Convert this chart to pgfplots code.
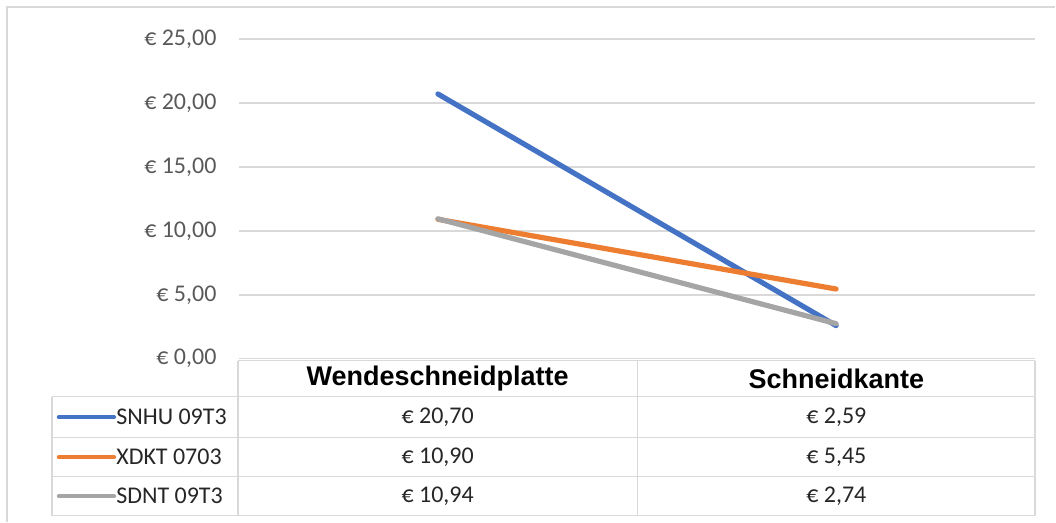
\documentclass[border=0pt]{standalone}
\usepackage{pgfplots}
\pgfplotsset{compat=1.18}
\usepackage{fontspec}
\setmainfont{Carlito}
\newfontfamily\arialfont{Liberation Sans}
\definecolor{sblue}{HTML}{4472C4}
\definecolor{sorange}{HTML}{ED7D31}
\definecolor{sgray}{HTML}{A5A5A5}
\definecolor{gridc}{HTML}{D9D9D9}
\definecolor{tickc}{HTML}{595959}
\definecolor{txtc}{HTML}{262626}
\begin{document}
\begin{tikzpicture}[x=1pt,y=1pt]
\fontsize{12}{14}\selectfont
% canvas
\path (0,0) rectangle (528,261);
% chart border (top and left only visible)
\draw[gridc, line width=0.8pt] (3.5,0) -- (3.5,257.5) -- (528,257.5);
\begin{axis}[
  at={(119.5pt,81.5pt)}, anchor=south west,
  scale only axis, width=398.5pt, height=160pt,
  xmin=-0.5, xmax=1.5, ymin=0, ymax=25,
  axis line style={draw=none},
  xtick=\empty,
  ytick={0,5,10,15,20,25},
  yticklabels={{€ 0,00},{€ 5,00},{€ 10,00},{€ 15,00},{€ 20,00},{€ 25,00}},
  /pgf/number format/assume math mode=true,
  yticklabel style={font=\fontsize{12}{14}\selectfont, text=tickc, xshift=-7pt},
  major tick length=0pt,
  ymajorgrids, grid style={gridc, line width=0.75pt},
  clip=false,
]
\addplot[sblue, line width=2.6pt, line cap=round] coordinates {(0,20.70) (1,2.59)};
\addplot[sorange, line width=2.6pt, line cap=round] coordinates {(0,10.90) (1,5.45)};
\addplot[sgray, line width=2.6pt, line cap=round] coordinates {(0,10.94) (1,2.74)};
\end{axis}
% data table
\begin{scope}[gridc, line width=0.75pt]
\draw (119,80.5) -- (518,80.5);
\draw (26,62.5) -- (518,62.5);
\draw (26,42) -- (518,42);
\draw (26,22.5) -- (518,22.5);
\draw (26,3) -- (518,3);
\draw (26,62.5) -- (26,3);
\draw (119,80.5) -- (119,3);
\draw (319,80.5) -- (319,3);
\draw (518,80.5) -- (518,3);
\end{scope}
\node[font=\arialfont\bfseries\fontsize{13.5}{16}\selectfont] at (219,71.5) {Wendeschneidplatte};
\node[font=\arialfont\bfseries\fontsize{13.5}{16}\selectfont] at (418.5,71.5) {Schneidkante};
% legend keys
\draw[sblue, line width=2.2pt, line cap=round] (29.5,52.25) -- (57,52.25);
\draw[sorange, line width=2.2pt, line cap=round] (29.5,32.25) -- (57,32.25);
\draw[sgray, line width=2.2pt, line cap=round] (29.5,12.75) -- (57,12.75);
\node[anchor=west, inner sep=0pt, text=txtc] at (58,52.25) {SNHU 09T3};
\node[anchor=west, inner sep=0pt, text=txtc] at (58,32.25) {XDKT 0703};
\node[anchor=west, inner sep=0pt, text=txtc] at (58,12.75) {SDNT 09T3};
% values
\node[text=txtc] at (219,52.25) {€ 20,70};
\node[text=txtc] at (219,32.25) {€ 10,90};
\node[text=txtc] at (219,12.75) {€ 10,94};
\node[text=txtc] at (418.5,52.25) {€ 2,59};
\node[text=txtc] at (418.5,32.25) {€ 5,45};
\node[text=txtc] at (418.5,12.75) {€ 2,74};
\end{tikzpicture}
\end{document}
